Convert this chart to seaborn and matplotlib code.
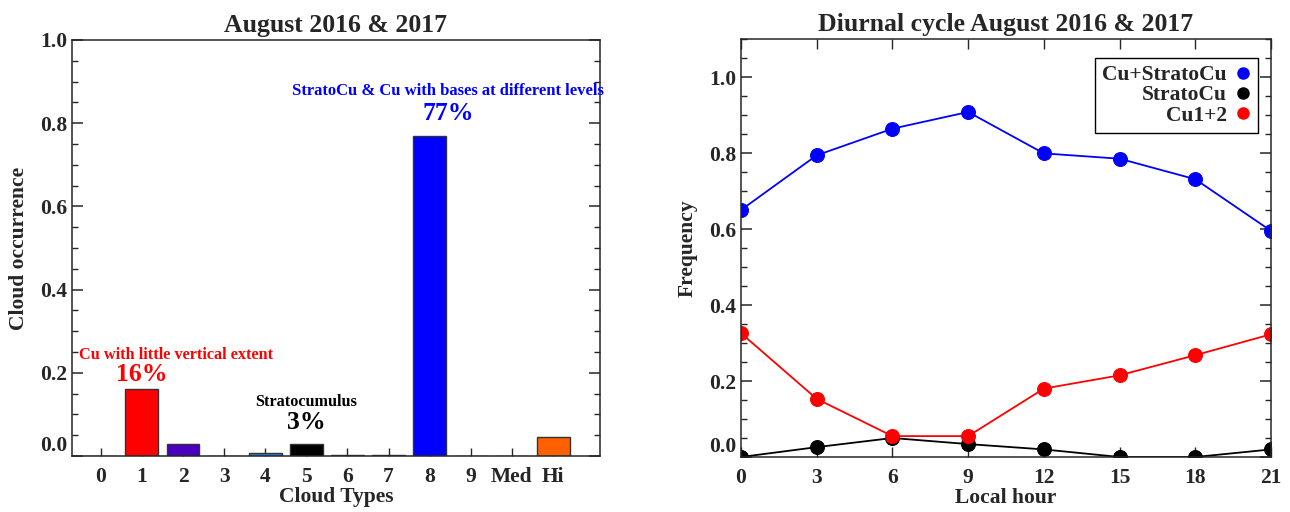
import numpy as np
import pandas as pd
import matplotlib
matplotlib.use("Agg")
import matplotlib.pyplot as plt
from matplotlib.ticker import MultipleLocator
from matplotlib.lines import Line2D
import seaborn as sns

# ---------------- data ----------------
cloud_types = ["0", "1", "2", "3", "4", "5", "6", "7", "8", "9", "Med", "Hi"]
cloud_occurrence = [0.001, 0.162, 0.028, 0.001, 0.008, 0.030, 0.002, 0.002, 0.770, 0.001, 0.001, 0.046]
bar_colors = ["#000000", "#FF0000", "#4B00C0", "#1E1E8C", "#1E82F0", "#000000",
              "#103030", "#204020", "#0000FF", "#206020", "#406040", "#FF6000"]

local_hour = [0, 3, 6, 9, 12, 15, 18, 21]
cu_stratocu = [0.650, 0.794, 0.864, 0.908, 0.799, 0.785, 0.731, 0.595]
stratocu = [0.000, 0.026, 0.050, 0.034, 0.020, 0.000, 0.000, 0.020]
cu12 = [0.326, 0.153, 0.055, 0.055, 0.180, 0.215, 0.268, 0.323]

series_names = ["Cu+StratoCu", "StratoCu", "Cu1+2"]
series_colors = ["#0000FF", "#000000", "#FF0000"]

# ---------------- style ----------------
sns.set_style("ticks")
plt.rcParams["font.family"] = ["Liberation Serif", "DejaVu Serif"]
plt.rcParams["font.weight"] = "bold"
plt.rcParams["axes.labelweight"] = "bold"
plt.rcParams["axes.titleweight"] = "bold"
plt.rcParams["axes.linewidth"] = 1.1

fig = plt.figure(figsize=(12.9, 5.12), dpi=100)
ax1 = fig.add_axes([0.0558, 0.1094, 0.4093, 0.8125])
ax2 = fig.add_axes([0.5744, 0.1074, 0.4109, 0.8164])

# ---------------- left: bar chart ----------------
df_bar = pd.DataFrame({"type": cloud_types, "occ": cloud_occurrence})
sns.barplot(data=df_bar, x="type", y="occ", hue="type", palette=bar_colors,
            legend=False, width=0.8, edgecolor="#333333", linewidth=1.0,
            saturation=1, ax=ax1)
ax1.set_xlim(-0.7, 12.14)
ax1.set_ylim(0, 1.0)
ax1.yaxis.set_major_locator(MultipleLocator(0.2))
ax1.yaxis.set_minor_locator(MultipleLocator(0.05))
ax1.set_yticks(np.arange(0, 1.01, 0.2))
ax1.set_yticklabels([f"{v:.1f}" for v in np.arange(0, 1.01, 0.2)])
ax1.tick_params(axis="y", which="both", direction="in", left=True, right=True, labelsize=15.5)
ax1.tick_params(axis="y", which="major", length=8, width=1.1)
ax1.tick_params(axis="y", which="minor", length=4.5, width=1.0)
ax1.tick_params(axis="x", direction="in", length=6, width=1.0, top=False, labelsize=15.5, pad=8)
ax1.set_xlabel("Cloud Types", fontsize=15.5, labelpad=0)
ax1.set_ylabel("Cloud occurrence", fontsize=15.5, labelpad=8)
ax1.set_title("August 2016 & 2017", fontsize=18.5, pad=6)
for lab in ax1.get_yticklabels():
    lab.set_fontweight("bold")
for lab in ax1.get_xticklabels():
    lab.set_fontweight("bold")
ax1.get_yticklabels()[0].set_va("bottom")

ax1.text(8.44, 0.877, "StratoCu & Cu with bases at different levels", color="#0000FF",
         fontsize=12, ha="center", va="center", fontweight="bold")
ax1.text(8.44, 0.824, "77%", color="#0000FF", fontsize=18.5, ha="center", va="center", fontweight="bold")
ax1.text(1.82, 0.243, "Cu with little vertical extent", color="#FF0000",
         fontsize=11.7, ha="center", va="center", fontweight="bold")
ax1.text(1.0, 0.195, "16%", color="#FF0000", fontsize=18.5, ha="center", va="center", fontweight="bold")
ax1.text(5.0, 0.130, "Stratocumulus", color="black", fontsize=11.7, ha="center", va="center", fontweight="bold")
ax1.text(5.0, 0.080, "3%", color="black", fontsize=18.5, ha="center", va="center", fontweight="bold")

# ---------------- right: diurnal cycle ----------------
df_line = pd.DataFrame({
    "hour": local_hour * 3,
    "freq": cu_stratocu + stratocu + cu12,
    "series": [series_names[0]] * len(local_hour) + [series_names[1]] * len(local_hour)
              + [series_names[2]] * len(local_hour),
})
for name, col in zip(series_names, series_colors):
    sub = df_line[df_line["series"] == name]
    sns.lineplot(data=sub, x="hour", y="freq", color=col, marker="o", markersize=10,
                 markeredgecolor=col, linewidth=1.3, ax=ax2, legend=False)

ax2.set_xlim(0, 21)
ax2.set_ylim(0, 1.1)
ax2.set_xticks(local_hour)
ax2.set_xticklabels([str(h) for h in local_hour])
ax2.yaxis.set_major_locator(MultipleLocator(0.2))
ax2.yaxis.set_minor_locator(MultipleLocator(0.05))
ax2.set_yticks(np.arange(0, 1.01, 0.2))
ax2.set_yticklabels([f"{v:.1f}" for v in np.arange(0, 1.01, 0.2)])
ax2.tick_params(axis="y", which="both", direction="in", left=True, right=True, labelsize=15.5)
ax2.tick_params(axis="y", which="major", length=8, width=1.1)
ax2.tick_params(axis="y", which="minor", length=4.5, width=1.0)
ax2.tick_params(axis="x", direction="in", length=7, width=1.0, top=True, bottom=True, labelsize=15.5, pad=8)
ax2.set_xlabel("Local hour", fontsize=15.5, labelpad=0)
ax2.set_ylabel("Frequency", fontsize=15.5, labelpad=8)
ax2.set_title("Diurnal cycle August 2016 & 2017", fontsize=18.5, pad=6)
for lab in ax2.get_yticklabels() + ax2.get_xticklabels():
    lab.set_fontweight("bold")
ax2.get_yticklabels()[0].set_va("bottom")

handles = [Line2D([], [], linestyle="none", marker="o", markersize=8, color=c, markeredgecolor=c)
           for c in series_colors]
leg = ax2.legend(handles, series_names, loc="upper right", bbox_to_anchor=(0.975, 0.955),
                 markerfirst=False, frameon=True, fancybox=False, framealpha=1,
                 edgecolor="black", prop={"family": ["Liberation Serif"], "weight": "bold", "size": 15.5},
                 handlelength=0.7, handletextpad=0.4, labelspacing=0.0, borderpad=0.35,
                 borderaxespad=0)
leg.get_frame().set_linewidth(1.0)

fig.savefig("out.png", dpi=100)
